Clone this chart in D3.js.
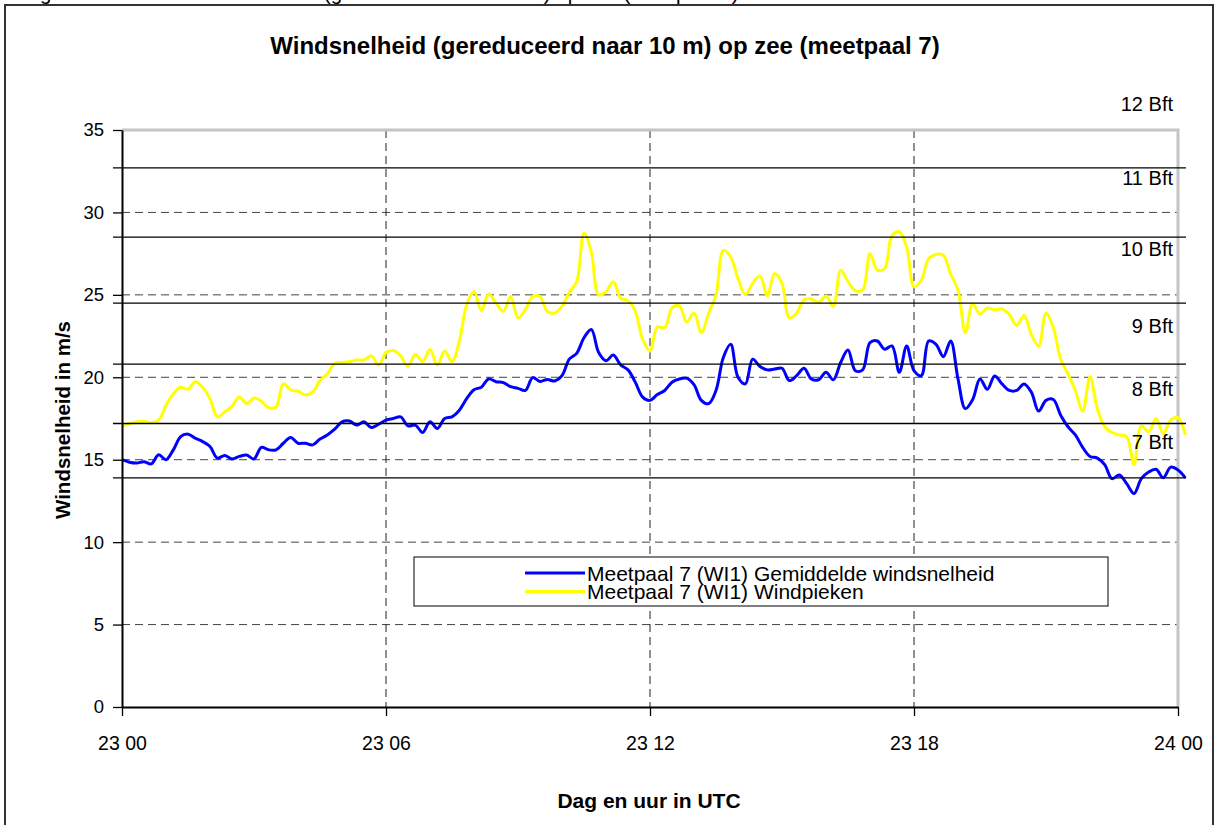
<!DOCTYPE html>
<html>
<head>
<meta charset="utf-8">
<script src="https://cdn.jsdelivr.net/npm/d3@7"></script>
<style>
  body { margin: 0; background: #fff; }
  svg { display: block; font-family: Arial, "Liberation Sans", sans-serif; }
</style>
</head>
<body>
<div id="chart"></div>
<script>
// 10-minute values, 23 00 .. 24 00 (+1 step)
const meanSpeed = [
  15.0, 14.85, 14.8, 14.88, 14.75, 15.3, 15.0, 15.6, 16.4, 16.55,
  16.3, 16.1, 15.8, 15.1, 15.25, 15.05, 15.2, 15.28, 15.05, 15.75,
  15.6, 15.6, 16.0, 16.35, 16.0, 16.0, 15.9, 16.25, 16.5, 16.85,
  17.3, 17.35, 17.1, 17.3, 16.95, 17.15, 17.4, 17.5, 17.6, 17.05,
  17.1, 16.65, 17.3, 16.9, 17.5, 17.6, 18.0, 18.7, 19.25, 19.4,
  19.9, 19.73, 19.68, 19.43, 19.33, 19.2, 19.98, 19.75, 19.87, 19.78,
  20.1, 21.1, 21.45, 22.4, 22.9, 21.5, 21.0, 21.35, 20.75, 20.45,
  19.7, 18.8, 18.6, 18.95, 19.2, 19.7, 19.9, 19.95, 19.55, 18.6,
  18.4, 19.2, 21.2, 22.0, 20.0, 19.6, 21.1, 20.65, 20.45, 20.5,
  20.55, 19.8, 20.1, 20.55, 19.9, 19.85, 20.3, 19.85, 20.9, 21.65,
  20.4, 20.45, 22.1, 22.2, 21.7, 21.9, 20.3, 21.9, 20.4, 20.1,
  22.2, 22.0, 21.25, 22.2, 19.9, 18.1, 18.65, 19.9, 19.27, 20.08,
  19.6, 19.2, 19.2, 19.6, 19.1, 17.95, 18.6, 18.65, 17.7, 17.0,
  16.5, 15.75, 15.2, 15.1, 14.7, 13.85, 14.07, 13.55, 12.95, 13.85,
  14.25, 14.42, 13.91, 14.55, 14.38, 13.9
];
const gustSpeed = [
  17.05, 17.2, 17.3, 17.33, 17.25, 17.4, 18.3, 19.0, 19.4, 19.27,
  19.73, 19.39, 18.7, 17.6, 17.9, 18.25, 18.8, 18.4, 18.75, 18.55,
  18.16, 18.2, 19.6, 19.23, 19.15, 18.93, 19.1, 19.8, 20.2, 20.84,
  20.9, 20.95, 21.05, 21.05, 21.3, 20.74, 21.5, 21.62, 21.3, 20.65,
  21.4, 20.95, 21.69, 20.75, 21.59, 20.95, 22.2, 24.4, 25.2, 24.05,
  25.05, 24.5, 24.0, 24.9, 23.6, 24.1, 24.9, 24.9, 24.0, 23.9,
  24.3, 25.15, 25.8, 28.73, 27.6, 25.0, 25.2, 25.8, 24.79, 24.65,
  24.0, 22.3, 21.6, 23.05, 23.0, 24.2, 24.35, 23.35, 23.9, 22.7,
  23.9, 25.0, 27.7, 27.3, 26.0, 25.0, 25.7, 26.15, 24.95, 26.3,
  25.7, 23.6, 23.9, 24.7, 24.75, 24.55, 24.93, 24.3, 26.5, 25.8,
  25.25, 25.3, 27.5, 26.5, 26.6, 28.6, 28.83, 27.9, 25.5, 25.9,
  27.2, 27.45, 27.4, 26.25, 25.3, 22.7, 24.45, 23.84, 24.2, 24.1,
  24.15, 23.8, 23.15, 23.75, 22.6, 21.9, 23.88, 23.0, 21.1, 20.2,
  19.2, 17.95, 20.04, 18.1, 17.0, 16.65, 16.5, 16.4, 14.7, 17.05,
  16.7, 17.5, 16.6, 17.4, 17.55, 16.5
];

const seriesNames = ['Meetpaal 7 (WI1) Gemiddelde windsnelheid', 'Meetpaal 7 (WI1) Windpieken'];
const seriesColors = ['#0000ff', '#ffff00'];

const yTicks = [0, 5, 10, 15, 20, 25, 30, 35];
const xTickHours = [0, 6, 12, 18, 24];
const xTickLabels = ['23 00', '23 06', '23 12', '23 18', '24 00'];

// Beaufort class boundaries (m/s) and where their labels sit
const bftBounds = [13.9, 17.2, 20.8, 24.5, 28.5, 32.7];
const bftLabels = ['7 Bft', '8 Bft', '9 Bft', '10 Bft', '11 Bft', '12 Bft'];
const bftLabelAt = [16.1, 19.3, 23.1, 27.8, 32.1, 36.6];

const config = {
  width: 1216,
  height: 825,
  plot: {left: 122, right: 1178, top: 130, bottom: 707},
  stepHours: 10 / 60
};

const svg = d3.select('#chart').append('svg')
    .attr('width', config.width)
    .attr('height', config.height);

const p = config.plot;
const x = d3.scaleLinear().domain([0, 24]).range([p.left, p.right]);
const y = d3.scaleLinear().domain([0, 35]).range([p.bottom, p.top]);

// outer chart frame and the caption cut off above it
svg.append('text')
    .attr('x', 23)
    .attr('y', 0)
    .attr('font-size', 20.5)
    .text('Figuur 2: Gemeten windsnelheid (gereduceerd naar 10 m) op zee (meetpaal 7)');

svg.append('rect')
    .attr('x', 5).attr('y', 5)
    .attr('width', 1208).attr('height', 900)
    .attr('fill', 'none')
    .attr('stroke', '#333')
    .attr('stroke-width', 2);

svg.append('text')
    .attr('x', 605).attr('y', 45)
    .attr('text-anchor', 'middle')
    .attr('dominant-baseline', 'central')
    .attr('font-size', 24)
    .attr('font-weight', 'bold')
    .text('Windsnelheid (gereduceerd naar 10 m) op zee (meetpaal 7)');

// grid
const grid = svg.append('g');
grid.selectAll('.hgrid')
  .data(yTicks.filter(d => d > 0 && d < 35))
  .join('line')
    .attr('x1', p.left).attr('x2', p.right)
    .attr('y1', d => y(d)).attr('y2', d => y(d))
    .attr('stroke', '#444')
    .attr('stroke-dasharray', '8,5');

grid.selectAll('.vgrid')
  .data(xTickHours.filter(d => d > 0 && d < 24))
  .join('line')
    .attr('x1', d => x(d)).attr('x2', d => x(d))
    .attr('y1', p.top).attr('y2', p.bottom)
    .attr('stroke', '#222')
    .attr('stroke-dasharray', '8,5');

// plot area border (top, right)
svg.append('path')
    .attr('d', `M${p.left},${p.top}H${p.right}V${p.bottom}`)
    .attr('fill', 'none')
    .attr('stroke', '#c4c4c4')
    .attr('stroke-width', 3);

// series
const line = d3.line()
    .x((d, i) => x(i * config.stepHours))
    .y(d => y(d))
    .curve(d3.curveCatmullRom.alpha(0.5));

svg.append('g').selectAll('path')
  .data([gustSpeed, meanSpeed])
  .join('path')
    .attr('d', line)
    .attr('fill', 'none')
    .attr('stroke', (d, i) => i === 0 ? seriesColors[1] : seriesColors[0])
    .attr('stroke-width', 3)
    .attr('stroke-linejoin', 'round');

// Beaufort lines and labels
const bft = svg.append('g');
bft.selectAll('line')
  .data(bftBounds)
  .join('line')
    .attr('x1', p.left - 9).attr('x2', p.right + 8)
    .attr('y1', d => y(d)).attr('y2', d => y(d))
    .attr('stroke', '#000')
    .attr('stroke-width', 1.4);

bft.selectAll('text')
  .data(bftLabels)
  .join('text')
    .attr('x', p.right - 5)
    .attr('y', (d, i) => y(bftLabelAt[i]))
    .attr('text-anchor', 'end')
    .attr('dominant-baseline', 'central')
    .attr('font-size', 20)
    .text(d => d);

// axes
const yAxis = svg.append('g')
    .attr('transform', `translate(${p.left},0)`)
    .call(d3.axisLeft(y).tickValues(yTicks).tickSize(9).tickSizeOuter(0).tickPadding(9));

const xAxis = svg.append('g')
    .attr('transform', `translate(0,${p.bottom})`)
    .call(d3.axisBottom(x).tickValues(xTickHours).tickFormat((d, i) => xTickLabels[i])
      .tickSize(9).tickSizeOuter(0).tickPadding(20));

[yAxis, xAxis].forEach(ax => {
  ax.select('.domain').attr('stroke', '#000').attr('stroke-width', 2);
  ax.selectAll('.tick line').attr('stroke', '#000').attr('stroke-width', 1.3);
  ax.selectAll('.tick text')
      .attr('font-family', 'Arial, "Liberation Sans", sans-serif')
      .attr('font-size', 18.5)
      .attr('fill', '#000');
});
xAxis.selectAll('.tick text').attr('font-size', 19.5);

svg.append('text')
    .attr('transform', 'translate(62,420) rotate(-90)')
    .attr('text-anchor', 'middle')
    .attr('dominant-baseline', 'central')
    .attr('font-size', 20.5)
    .attr('font-weight', 'bold')
    .text('Windsnelheid in m/s');

svg.append('text')
    .attr('x', 649).attr('y', 800)
    .attr('text-anchor', 'middle')
    .attr('dominant-baseline', 'central')
    .attr('font-size', 21)
    .attr('font-weight', 'bold')
    .text('Dag en uur in UTC');

// legend
const legend = svg.append('g');
legend.append('rect')
    .attr('x', 414).attr('y', 557)
    .attr('width', 694).attr('height', 49)
    .attr('fill', '#fff')
    .attr('stroke', '#000');

const items = legend.selectAll('.item')
  .data(seriesNames)
  .join('g')
    .attr('transform', (d, i) => `translate(525,${573 + i * 18.5})`);

items.append('line')
    .attr('x1', 0).attr('x2', 60)
    .attr('stroke', (d, i) => seriesColors[i])
    .attr('stroke-width', 3);

items.append('text')
    .attr('x', 62)
    .attr('dominant-baseline', 'central')
    .attr('font-size', 21)
    .text(d => d);
</script>
</body>
</html>
